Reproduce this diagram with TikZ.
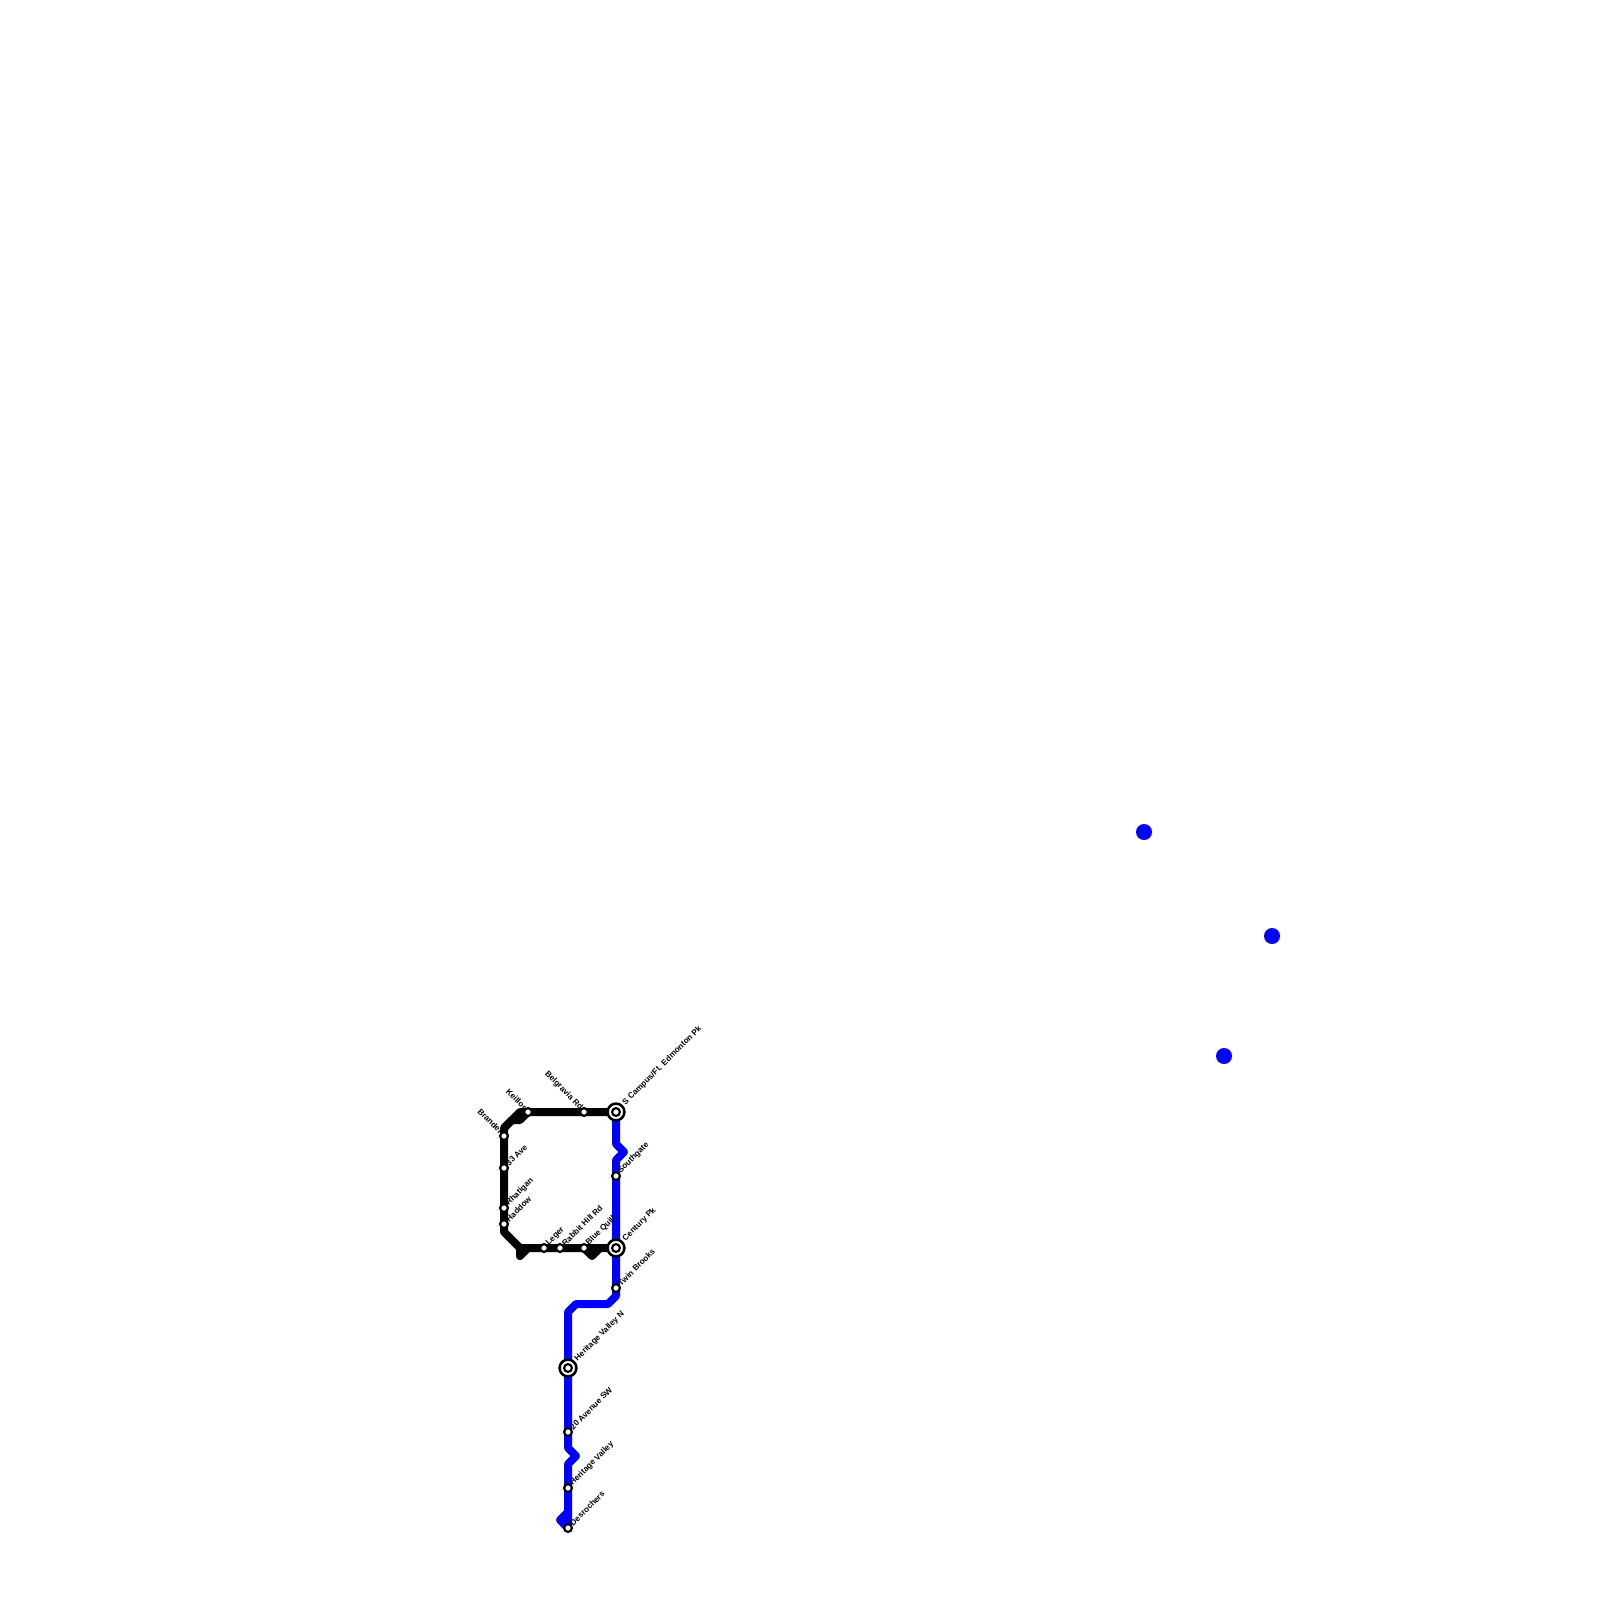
\documentclass[tikz,border=0pt]{standalone}
\usepackage{fontspec}
\setmainfont{Liberation Sans}
\usepackage{xcolor}
\usetikzlibrary{positioning,backgrounds}
\definecolor{route}{HTML}{0000FF}
\tikzset{
    stop/.style={circle, draw=black, fill=white, line width=0.055cm, minimum size=0.195cm, inner sep=0pt},
    hub/.style={circle, draw=black, fill=white, line width=0.065cm, minimum size=0.42cm, inner sep=0pt},
    dot/.style={circle, fill=route, minimum size=0.4cm, inner sep=0pt},
    tag/.style={xshift=0.08cm, yshift=0.09cm, rotate=45, anchor=west, inner sep=0pt, font=\fontsize{5.8pt}{6pt}\selectfont\bfseries},
    hubtag/.style={xshift=0.2cm, yshift=0.2cm, rotate=45, anchor=west, inner sep=0pt, font=\fontsize{5.8pt}{6pt}\selectfont\bfseries},
    backtag/.style={xshift=-0.06cm, yshift=0.09cm, rotate=-45, anchor=east, inner sep=0pt, font=\fontsize{5.8pt}{6pt}\selectfont\bfseries},
    blackline/.style={draw=black, line width=0.2cm, line join=round},
    blueline/.style={draw=route, line width=0.2cm, line join=round}
}
\begin{document}
\begin{tikzpicture}[on grid]
\useasboundingbox (0,0) rectangle (40,-40);

% blue route
\node[hub] (scampus) at (15.4,-27.8) {};
\node[stop, below=1.6cm of scampus] (southgate) {};
\node[hub, below=1.8cm of southgate] (century) {};
\node[stop, below=1cm of century] (twinbrooks) {};
\node[hub] (heritagen) at (14.2,-34.2) {};
\node[stop, below=1.6cm of heritagen] (ave20) {};
\node[stop, below=1.4cm of ave20] (heritage) {};
\node[stop, below=1cm of heritage] (desrochers) {};
\node[stop] (scampuscore) at (scampus) {};
\node[stop] (centurycore) at (century) {};
\node[stop] (heritagencore) at (heritagen) {};

% black route
\node[stop, left=0.8cm of scampus] (belgravia) {};
\node[stop, left=1.4cm of belgravia] (keillor) {};
\node[stop] (brander) at (12.6,-28.4) {};
\node[stop, below=0.8cm of brander] (ave33) {};
\node[stop, below=1cm of ave33] (rhatigan) {};
\node[stop, below=0.4cm of rhatigan] (haddow) {};
\node[stop, left=1.8cm of century] (leger) {};
\node[stop, right=0.4cm of leger] (rabbit) {};
\node[stop, left=0.8cm of century] (bluequill) {};

% stray dots
\node[dot] (dota) at (28.6,-20.8) {};
\node[dot] (dotb) at (31.8,-23.4) {};
\node[dot] (dotc) at (30.6,-26.4) {};

\begin{scope}[on background layer]
\draw[blueline] (scampus.center) -- ++(0,-0.8) -- ++(0.2,-0.2) -- ++(-0.2,-0.2) -- (southgate.center) -- (century.center) -- (twinbrooks.center) -- ++(0,-0.2) -- ++(-0.2,-0.2) -- ++(-0.8,0) -- ++(-0.2,-0.2) -- (heritagen.center) -- (ave20.center) -- ++(0,-0.4) -- ++(0.2,-0.2) -- ++(-0.2,-0.2) -- (heritage.center) -- (desrochers.center) -- ++(-0.2,0.2) -- ++(0.2,0.2);
\draw[blackline] (scampus.center) -- (belgravia.center) -- (keillor.center) -- ++(-0.2,0) -- ++(-0.4,-0.4) -- (brander.center) -- (ave33.center) -- (rhatigan.center) -- (haddow.center) -- ++(0,-0.2) -- ++(0.4,-0.4) -- (leger.center) -- (rabbit.center) -- (bluequill.center) -- (century.center);
\draw[blackline] (keillor.center) -- ++(-0.2,-0.2) -- ++(-0.2,0) -- ++(-0.2,-0.2);
\draw[blackline] (leger.center) ++(-0.6,0) -- ++(0,-0.2) -- ++(0.2,0.2);
\draw[blackline] (bluequill.center) -- ++(0.2,-0.2) -- ++(0.2,0.2);
\end{scope}

% labels
\node[hubtag] (scampustag) at (scampus) {S Campus/Ft. Edmonton Pk};
\node[tag] (southgatetag) at (southgate) {Southgate};
\node[hubtag] (centurytag) at (century) {Century Pk};
\node[tag] (twinbrookstag) at (twinbrooks) {Twin Brooks};
\node[hubtag] (heritagentag) at (heritagen) {Heritage Valley N};
\node[tag] (ave20tag) at (ave20) {20 Avenue SW};
\node[tag] (heritagetag) at (heritage) {Heritage Valley};
\node[tag] (desrocherstag) at (desrochers) {Desrochers};
\node[backtag] (belgraviatag) at (belgravia) {Belgravia Rd};
\node[backtag] (keillortag) at (keillor) {Keillor};
\node[backtag] (brandertag) at (brander) {Brander};
\node[tag] (ave33tag) at (ave33) {33 Ave};
\node[tag] (rhatigantag) at (rhatigan) {Rhatigan};
\node[tag] (haddowtag) at (haddow) {Haddow};
\node[tag] (legertag) at (leger) {Leger};
\node[tag] (rabbittag) at (rabbit) {Rabbit Hill Rd};
\node[tag] (bluequilltag) at (bluequill) {Blue Quill};

\end{tikzpicture}
\end{document}
